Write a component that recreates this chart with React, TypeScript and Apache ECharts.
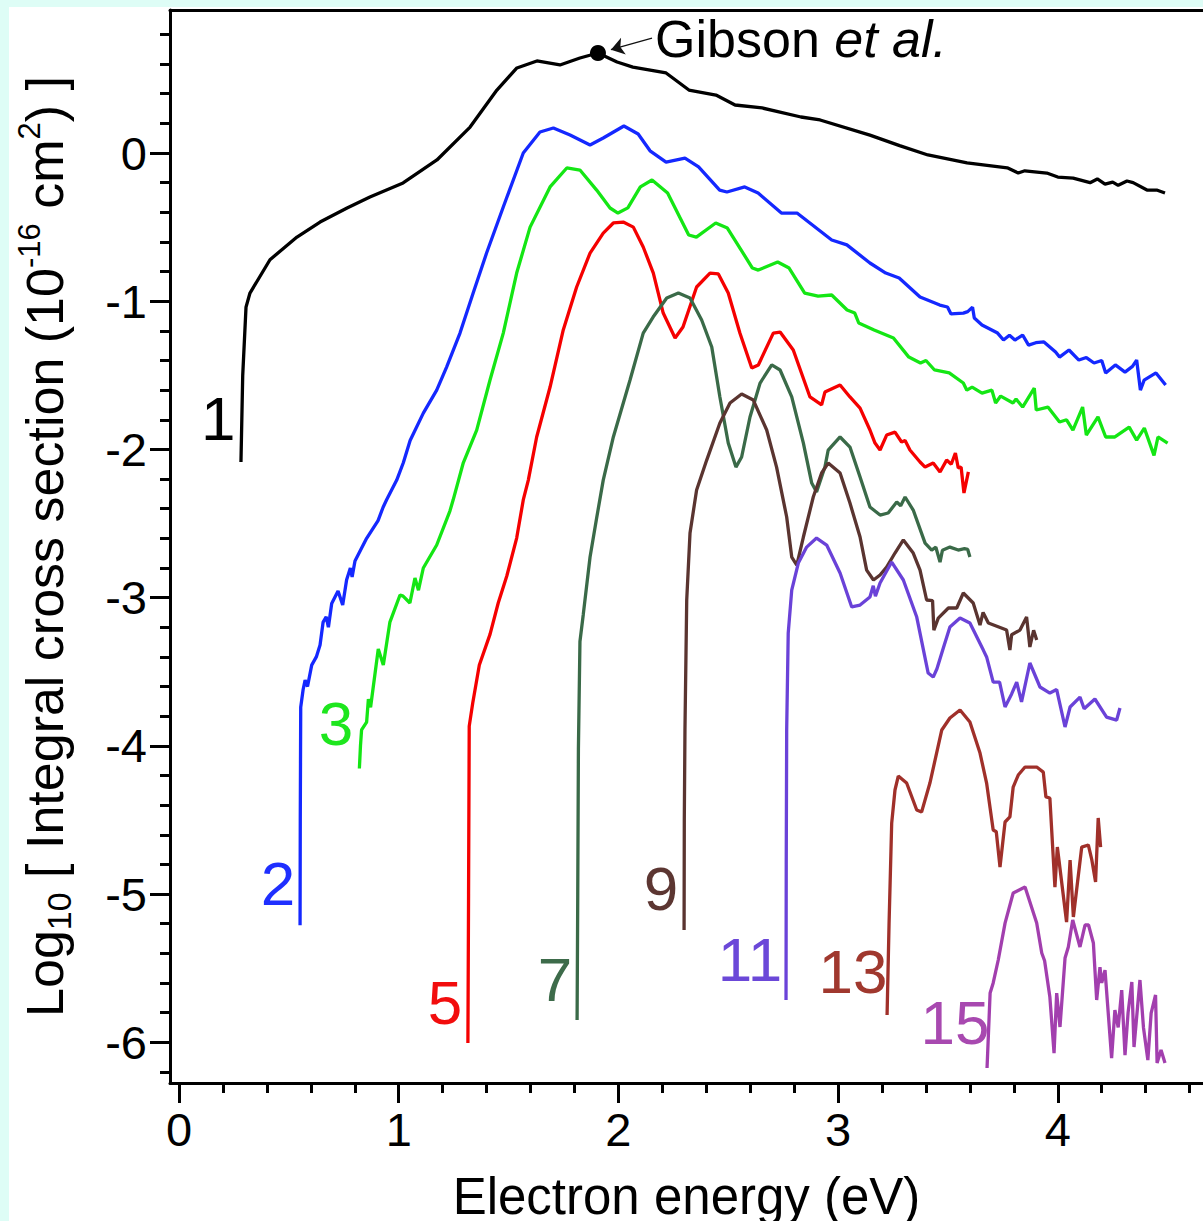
import React, { useEffect, useRef } from 'react';
import * as echarts from 'echarts';

const FONT = '"Liberation Sans", Arial, Helvetica, sans-serif';

// Axis ranges (eV and log10 of the cross section)
const X_MIN = -0.041;
const X_MAX = 4.661;
const Y_MIN = -6.275;
const Y_MAX = 0.965;

const majorX = [0, 1, 2, 3, 4];
const minorX = [0.2, 0.4, 0.6, 0.8, 1.2, 1.4, 1.6, 1.8, 2.2, 2.4, 2.6, 2.8, 3.2, 3.4, 3.6, 3.8, 4.2, 4.4, 4.6];
const majorY = [-6, -5, -4, -3, -2, -1, 0];
const minorY = [-6.2, -5.8, -5.6, -5.4, -5.2, -4.8, -4.6, -4.4, -4.2, -3.8, -3.6, -3.4, -3.2, -2.8, -2.6, -2.4, -2.2,
  -1.8, -1.6, -1.4, -1.2, -0.8, -0.6, -0.4, -0.2, 0.2, 0.4, 0.6, 0.8];

// Integral cross sections, [energy (eV), log10 sigma]
const curve1 = [[0.282, -2.085], [0.29, -1.5], [0.305, -1.04], [0.323, -0.945], [0.414, -0.72], [0.537, -0.567], [0.642, -0.466],
  [0.765, -0.371], [0.869, -0.297], [1.02, -0.202], [1.174, -0.047], [1.325, 0.175], [1.447, 0.425], [1.538, 0.574], [1.629, 0.621],
  [1.734, 0.594], [1.825, 0.641], [1.907, 0.675], [1.994, 0.614], [2.066, 0.58], [2.217, 0.54], [2.321, 0.425], [2.444, 0.391],
  [2.531, 0.324], [2.654, 0.304], [2.831, 0.243], [2.918, 0.223], [3.145, 0.121], [3.28, 0.05], [3.409, -0.013], [3.587, -0.067],
  [3.77, -0.1], [3.82, -0.135], [3.85, -0.12], [3.95, -0.135], [4.0, -0.162], [4.07, -0.169], [4.147, -0.2], [4.18, -0.175],
  [4.215, -0.21], [4.25, -0.196], [4.275, -0.218], [4.315, -0.189], [4.343, -0.2], [4.406, -0.25], [4.45, -0.25], [4.488, -0.27]];

const curve2 = [[0.551, -5.21], [0.552, -4.5], [0.554, -3.74], [0.565, -3.62], [0.574, -3.556], [0.585, -3.6], [0.604, -3.455],
  [0.625, -3.4], [0.642, -3.32], [0.656, -3.165], [0.67, -3.13], [0.68, -3.2], [0.695, -3.04], [0.724, -2.955], [0.745, -3.05],
  [0.763, -2.88], [0.78, -2.8], [0.788, -2.86], [0.801, -2.753], [0.854, -2.6], [0.906, -2.48], [0.929, -2.39], [0.945, -2.34],
  [0.991, -2.207], [1.021, -2.09], [1.052, -1.94], [1.112, -1.755], [1.173, -1.6], [1.218, -1.444], [1.279, -1.215], [1.339, -0.945],
  [1.4, -0.675], [1.476, -0.364], [1.567, 0.0], [1.643, 0.142], [1.704, 0.169], [1.78, 0.121], [1.871, 0.054], [1.931, 0.101],
  [2.025, 0.182], [2.09, 0.128], [2.144, 0.015], [2.217, -0.061], [2.303, -0.034], [2.365, -0.094], [2.461, -0.25], [2.494, -0.263],
  [2.575, -0.229], [2.636, -0.27], [2.742, -0.405], [2.813, -0.405], [2.971, -0.587], [3.04, -0.62], [3.145, -0.742], [3.217, -0.81],
  [3.278, -0.843], [3.373, -0.972], [3.463, -1.026], [3.498, -1.039], [3.514, -1.086], [3.57, -1.08], [3.59, -1.07], [3.612, -1.04],
  [3.62, -1.113], [3.655, -1.16], [3.726, -1.215], [3.753, -1.262], [3.78, -1.23], [3.805, -1.262], [3.84, -1.228], [3.867, -1.296],
  [3.9, -1.28], [3.937, -1.275], [3.99, -1.343], [4.008, -1.377], [4.051, -1.329], [4.096, -1.397], [4.13, -1.38], [4.165, -1.417],
  [4.2, -1.4], [4.218, -1.484], [4.262, -1.43], [4.306, -1.478], [4.34, -1.44], [4.359, -1.397], [4.376, -1.6], [4.393, -1.532],
  [4.447, -1.484], [4.491, -1.565]];

const curve3 = [[0.821, -4.153], [0.826, -4.0], [0.831, -3.893], [0.854, -3.84], [0.862, -3.685], [0.872, -3.74], [0.907, -3.347],
  [0.93, -3.455], [0.96, -3.165], [1.006, -2.982], [1.02, -2.99], [1.051, -3.036], [1.074, -2.868], [1.09, -2.95], [1.112, -2.8],
  [1.173, -2.645], [1.233, -2.416], [1.248, -2.34], [1.294, -2.09], [1.355, -1.87], [1.416, -1.53], [1.476, -1.215], [1.537, -0.81],
  [1.598, -0.5], [1.689, -0.229], [1.765, -0.101], [1.825, -0.115], [1.901, -0.25], [1.962, -0.371], [1.998, -0.405], [2.043, -0.37],
  [2.1, -0.229], [2.153, -0.182], [2.224, -0.27], [2.32, -0.553], [2.355, -0.567], [2.443, -0.472], [2.496, -0.506], [2.61, -0.776],
  [2.637, -0.79], [2.725, -0.735], [2.777, -0.776], [2.848, -0.945], [2.909, -0.965], [2.971, -0.958], [3.041, -1.059], [3.076, -1.08],
  [3.094, -1.147], [3.164, -1.194], [3.252, -1.248], [3.322, -1.377], [3.375, -1.417], [3.4, -1.4], [3.439, -1.464], [3.506, -1.484],
  [3.57, -1.552], [3.586, -1.6], [3.61, -1.58], [3.655, -1.62], [3.7, -1.6], [3.717, -1.687], [3.74, -1.64], [3.796, -1.687],
  [3.81, -1.66], [3.84, -1.714], [3.893, -1.586], [3.902, -1.734], [3.955, -1.714], [4.008, -1.815], [4.04, -1.8], [4.069, -1.87],
  [4.113, -1.714], [4.13, -1.903], [4.183, -1.78], [4.218, -1.916], [4.26, -1.916], [4.325, -1.85], [4.359, -1.937], [4.394, -1.856],
  [4.438, -2.04], [4.456, -1.916], [4.5, -1.957]];

const curve5 = [[1.315, -6.005], [1.318, -5.0], [1.321, -3.867], [1.337, -3.711], [1.367, -3.455], [1.416, -3.246], [1.453, -3.036],
  [1.492, -2.854], [1.537, -2.598], [1.567, -2.341], [1.59, -2.207], [1.628, -1.916], [1.689, -1.579], [1.749, -1.194], [1.81, -0.904],
  [1.871, -0.675], [1.931, -0.54], [1.977, -0.472], [2.022, -0.466], [2.068, -0.5], [2.113, -0.634], [2.159, -0.81], [2.204, -1.08],
  [2.258, -1.248], [2.294, -1.174], [2.356, -0.904], [2.417, -0.81], [2.455, -0.816], [2.5, -0.945], [2.553, -1.215], [2.607, -1.451],
  [2.637, -1.43], [2.705, -1.215], [2.736, -1.208], [2.796, -1.329], [2.872, -1.646], [2.925, -1.7], [2.94, -1.613], [3.009, -1.565],
  [3.054, -1.646], [3.1, -1.721], [3.145, -1.869], [3.168, -1.957], [3.191, -2.004], [3.221, -1.903], [3.259, -1.883], [3.289, -1.95],
  [3.305, -1.94], [3.327, -2.004], [3.373, -2.085], [3.396, -2.119], [3.433, -2.092], [3.464, -2.152], [3.494, -2.072], [3.515, -2.1],
  [3.534, -2.024], [3.547, -2.125], [3.56, -2.12], [3.573, -2.294], [3.593, -2.152]];

const curve7 = [[1.812, -5.85], [1.815, -5.0], [1.818, -4.022], [1.825, -3.296], [1.84, -3.115], [1.871, -2.726], [1.901, -2.463],
  [1.931, -2.207], [1.977, -1.916], [2.053, -1.532], [2.113, -1.215], [2.158, -1.107], [2.22, -0.978], [2.273, -0.945], [2.326, -0.978],
  [2.379, -1.127], [2.425, -1.309], [2.462, -1.646], [2.5, -1.957], [2.535, -2.119], [2.561, -2.051], [2.599, -1.781], [2.645, -1.552],
  [2.698, -1.43], [2.736, -1.464], [2.789, -1.646], [2.842, -1.957], [2.88, -2.227], [2.902, -2.287], [2.94, -2.119], [2.955, -2.004],
  [3.009, -1.916], [3.054, -1.984], [3.1, -2.186], [3.145, -2.389], [3.191, -2.443], [3.228, -2.429], [3.267, -2.355], [3.285, -2.38],
  [3.305, -2.321], [3.342, -2.409], [3.396, -2.632], [3.426, -2.679], [3.445, -2.66], [3.464, -2.76], [3.475, -2.68], [3.509, -2.659],
  [3.547, -2.679], [3.575, -2.67], [3.59, -2.675], [3.6, -2.726]];

const curve9 = [[2.299, -5.243], [2.3, -4.5], [2.303, -3.893], [2.311, -3.016], [2.326, -2.564], [2.356, -2.274], [2.402, -2.072],
  [2.462, -1.822], [2.508, -1.687], [2.561, -1.626], [2.614, -1.667], [2.675, -1.869], [2.72, -2.119], [2.766, -2.456], [2.789, -2.726],
  [2.812, -2.78], [2.842, -2.591], [2.887, -2.321], [2.925, -2.159], [2.955, -2.092], [3.009, -2.159], [3.054, -2.362], [3.1, -2.591],
  [3.13, -2.814], [3.161, -2.881], [3.191, -2.847], [3.221, -2.794], [3.259, -2.699], [3.297, -2.611], [3.342, -2.699], [3.373, -2.814],
  [3.403, -3.016], [3.43, -3.02], [3.436, -3.219], [3.456, -3.138], [3.502, -3.07], [3.54, -3.07], [3.57, -2.969], [3.615, -3.036],
  [3.646, -3.185], [3.66, -3.1], [3.684, -3.171], [3.767, -3.219], [3.782, -3.354], [3.79, -3.25], [3.828, -3.219], [3.858, -3.131],
  [3.873, -3.333], [3.89, -3.22], [3.904, -3.286]];

const curve11 = [[2.763, -5.715], [2.764, -4.8], [2.766, -3.893], [2.773, -3.24], [2.789, -2.949], [2.819, -2.767], [2.857, -2.659],
  [2.902, -2.598], [2.948, -2.645], [3.009, -2.834], [3.062, -3.063], [3.1, -3.05], [3.145, -2.996], [3.16, -2.92], [3.17, -2.99],
  [3.191, -2.901], [3.244, -2.76], [3.297, -2.881], [3.358, -3.131], [3.41, -3.509], [3.433, -3.536], [3.45, -3.48], [3.479, -3.34],
  [3.509, -3.198], [3.555, -3.138], [3.6, -3.171], [3.661, -3.354], [3.676, -3.4], [3.706, -3.57], [3.735, -3.57], [3.76, -3.738],
  [3.79, -3.65], [3.813, -3.57], [3.835, -3.704], [3.873, -3.441], [3.919, -3.603], [3.964, -3.644], [3.995, -3.62], [4.033, -3.873],
  [4.056, -3.738], [4.101, -3.671], [4.12, -3.75], [4.169, -3.684], [4.222, -3.806], [4.268, -3.826], [4.283, -3.745]];

const curve13 = [[3.223, -5.816], [3.232, -5.2], [3.244, -4.521], [3.259, -4.298], [3.274, -4.204], [3.312, -4.251], [3.358, -4.433],
  [3.38, -4.447], [3.418, -4.251], [3.472, -3.893], [3.509, -3.812], [3.555, -3.758], [3.6, -3.839], [3.646, -4.049], [3.676, -4.251],
  [3.706, -4.568], [3.72, -4.58], [3.737, -4.818], [3.76, -4.514], [3.782, -4.48], [3.797, -4.278], [3.82, -4.197], [3.851, -4.143],
  [3.904, -4.143], [3.934, -4.177], [3.946, -4.345], [3.964, -4.352], [3.987, -4.953], [3.998, -4.683], [4.04, -5.189], [4.056, -4.771],
  [4.071, -5.155], [4.109, -4.683], [4.139, -4.669], [4.155, -4.77], [4.172, -4.919], [4.184, -4.487], [4.195, -4.683]];

const curve15 = [[3.678, -6.174], [3.692, -5.668], [3.706, -5.6], [3.729, -5.445], [3.76, -5.196], [3.797, -4.993], [3.851, -4.953],
  [3.904, -5.196], [3.927, -5.398], [3.94, -5.45], [3.964, -5.695], [3.983, -6.073], [3.995, -5.668], [4.01, -5.897], [4.033, -5.432],
  [4.048, -5.357], [4.068, -5.175], [4.101, -5.357], [4.124, -5.209], [4.14, -5.209], [4.162, -5.33], [4.177, -5.715], [4.192, -5.493],
  [4.2, -5.6], [4.215, -5.513], [4.245, -6.107], [4.26, -5.783], [4.275, -5.9], [4.291, -5.648], [4.306, -6.087], [4.32, -5.8],
  [4.337, -5.594], [4.347, -6.032], [4.374, -5.58], [4.39, -5.9], [4.41, -6.12], [4.425, -5.803], [4.445, -5.681], [4.452, -6.14],
  [4.47, -6.053], [4.488, -6.14]];

const curves = [curve1, curve2, curve3, curve5, curve7, curve9, curve11, curve13, curve15];
const curveNames = ['1', '2', '3', '5', '7', '9', '11', '13', '15'];
const curveColors = ['#000000', '#1428ff', '#14e614', '#f50000', '#3a6a48', '#5a3430', '#6a42d8', '#a0302a', '#a23fae'];
const labelColors = ['#000000', '#1f2fff', '#1ee61e', '#f20d0d', '#3d6b4a', '#5c3632', '#6b48d8', '#a0382e', '#a849b0'];

// Anchor of each curve number, in data coordinates
const labelX = [0.178, 0.451, 0.715, 1.211, 1.711, 2.194, 2.599, 3.068, 3.532];
const labelY = [-1.788, -4.93, -3.846, -5.729, -5.574, -4.96, -5.445, -5.526, -5.87];

// Gibson et al. reference point, arrow and caption
const gibsonPoint = [1.907, 0.675];
const arrowFrom = [2.153, 0.776];
const arrowTo = [1.966, 0.697];
const captionAt = [2.167, 0.766];

const black = '#000';
const axisLineStyle = { color: black, width: 3 };
const tickStyle = { color: black, width: 3 };

function buildOption() {
  const lineSeries = curves.map((data, i) => ({
    type: 'line',
    name: curveNames[i],
    data,
    showSymbol: false,
    symbol: 'none',
    lineStyle: { color: curveColors[i], width: 3.3, opacity: 1 },
    itemStyle: { color: curveColors[i] },
    z: 3 + i,
    silent: true,
  }));

  return {
    animation: false,
    backgroundColor: '#ffffff',
    textStyle: { fontFamily: FONT },
    grid: { left: 161, top: 3, right: 0, bottom: 138, containLabel: false, outerBoundsMode: 'none' },
    xAxis: [
      {
        type: 'value', position: 'bottom', min: X_MIN, max: X_MAX,
        axisLine: { show: true, onZero: false, lineStyle: axisLineStyle },
        axisTick: { show: true, length: 20, lineStyle: tickStyle, customValues: majorX },
        axisLabel: { customValues: majorX, fontSize: 47, lineHeight: 50, fontFamily: FONT, color: black, margin: 21 },
        splitLine: { show: false },
        name: 'Electron energy (eV)', nameLocation: 'middle', nameGap: 83, nameMoveOverlap: false,
        nameTextStyle: { fontSize: 51, lineHeight: 60, fontFamily: FONT, color: black },
      },
      {
        type: 'value', position: 'bottom', min: X_MIN, max: X_MAX,
        axisLine: { show: false, onZero: false },
        axisTick: { show: true, length: 10, lineStyle: tickStyle, customValues: minorX },
        axisLabel: { show: false },
        splitLine: { show: false },
      },
      {
        type: 'value', position: 'top', min: X_MIN, max: X_MAX,
        axisLine: { show: true, onZero: false, lineStyle: axisLineStyle },
        axisTick: { show: false },
        axisLabel: { show: false },
        splitLine: { show: false },
      },
    ],
    yAxis: [
      {
        type: 'value', position: 'left', min: Y_MIN, max: Y_MAX,
        axisLine: { show: true, onZero: false, lineStyle: axisLineStyle },
        axisTick: { show: true, length: 20, lineStyle: tickStyle, customValues: majorY },
        axisLabel: { customValues: majorY, fontSize: 47, fontFamily: FONT, color: black, margin: 23 },
        splitLine: { show: false },
        name: '{b|Log}{sub|10}{b| [ Integral cross section (10}{sup|-16}{b| cm}{sup|2}{b|) ]}',
        nameLocation: 'middle', nameRotate: 90, nameGap: 94, nameMoveOverlap: false,
        nameTextStyle: {
          fontFamily: FONT, color: black, fontSize: 52,
          rich: {
            b: { fontSize: 52, lineHeight: 62, fontFamily: FONT, color: black },
            sub: { fontSize: 34, lineHeight: 40, verticalAlign: 'bottom', fontFamily: FONT, color: black },
            sup: { fontSize: 31, lineHeight: 26, verticalAlign: 'top', fontFamily: FONT, color: black },
          },
        },
      },
      {
        type: 'value', position: 'left', min: Y_MIN, max: Y_MAX,
        axisLine: { show: false, onZero: false },
        axisTick: { show: true, length: 10, lineStyle: tickStyle, customValues: minorY },
        axisLabel: { show: false },
        splitLine: { show: false },
      },
    ],
    series: [
      ...lineSeries,
      {
        type: 'scatter',
        name: 'Gibson et al.',
        data: [gibsonPoint],
        symbol: 'circle',
        symbolSize: 16,
        itemStyle: { color: black, opacity: 1 },
        z: 20,
        silent: true,
        markLine: {
          silent: true,
          animation: false,
          symbol: ['none', 'arrow'],
          symbolSize: 13,
          lineStyle: { color: '#111', width: 1.3, type: 'solid', opacity: 1 },
          itemStyle: { color: '#111' },
          label: { show: false },
          emphasis: { disabled: true },
          data: [[{ coord: arrowFrom }, { coord: arrowTo }]],
        },
      },
      {
        type: 'scatter',
        name: 'caption',
        data: [captionAt],
        symbolSize: 0,
        silent: true,
        z: 20,
        itemStyle: { opacity: 1 },
        label: {
          show: true, position: 'right', distance: 0, opacity: 1,
          color: black, textBorderWidth: 0,
          formatter: '{n|Gibson }{i|et al.}',
          rich: {
            n: { fontSize: 52, fontFamily: FONT, color: black, textBorderWidth: 0 },
            i: { fontSize: 52, fontFamily: FONT, fontStyle: 'italic', color: black, textBorderWidth: 0 },
          },
        },
      },
      {
        type: 'scatter',
        name: 'curve numbers',
        data: labelX.map((x, i) => ({
          value: [x, labelY[i]],
          label: { color: labelColors[i] },
        })),
        symbolSize: 0,
        silent: true,
        z: 20,
        itemStyle: { opacity: 1 },
        label: {
          show: true, position: 'inside', opacity: 1,
          fontSize: 62, fontFamily: FONT,
          textBorderWidth: 0, textBorderColor: 'transparent',
          formatter: (p: any) => curveNames[p.dataIndex],
        },
      },
    ],
  };
}

export default function App() {
  const ref = useRef<HTMLDivElement>(null);
  useEffect(() => {
    if (!ref.current) return;
    const chart = echarts.init(ref.current, null, { renderer: 'svg' });
    chart.setOption(buildOption() as any);
    return () => chart.dispose();
  }, []);
  return (
    <div style={{ position: 'absolute', left: 0, top: 0, width: 1203, height: 1221, background: '#defdf6', overflow: 'hidden' }}>
      <div ref={ref} style={{ position: 'absolute', left: 9, top: 7, width: 1194, height: 1214, background: '#ffffff' }} />
    </div>
  );
}
